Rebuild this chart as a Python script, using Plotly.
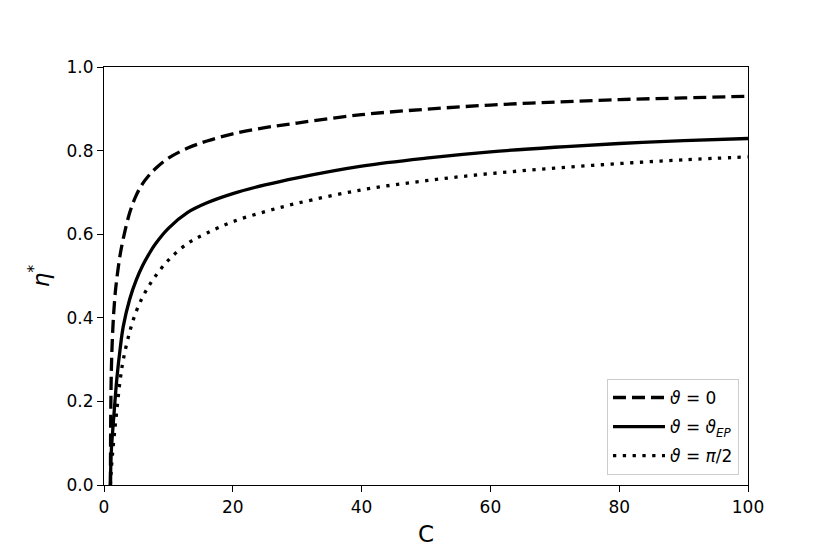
import plotly.graph_objects as go

# theta = 0 (dashed)
c_dash = [1, 1.05, 1.15, 1.3, 1.5, 1.75, 2, 2.5, 3, 4, 5, 6, 7, 8, 10, 13, 16, 20, 25, 30, 40, 50, 60, 70, 80, 90, 100]
eta_dash = [0, 0.17, 0.28, 0.35, 0.41, 0.46, 0.495, 0.55, 0.59, 0.652, 0.693, 0.721, 0.741, 0.757, 0.782, 0.806, 0.823, 0.840, 0.855, 0.866, 0.886, 0.899, 0.909, 0.916, 0.922, 0.926, 0.930]

# theta = theta_EP (solid)
c_solid = [1, 1.1, 1.3, 1.6, 2, 2.5, 3, 4, 5, 6, 7, 8, 10, 13, 16, 20, 25, 30, 40, 50, 60, 70, 80, 90, 100]
eta_solid = [0, 0.07, 0.12, 0.18, 0.255, 0.325, 0.38, 0.445, 0.49, 0.525, 0.553, 0.577, 0.614, 0.652, 0.675, 0.697, 0.718, 0.735, 0.763, 0.782, 0.797, 0.808, 0.817, 0.824, 0.829]

# theta = pi/2 (dotted)
c_dot = [1, 1.1, 1.3, 1.6, 2, 2.5, 3, 4, 5, 6, 7, 8, 10, 13, 16, 20, 25, 30, 40, 50, 60, 70, 80, 90, 100]
eta_dot = [0, 0.03, 0.07, 0.12, 0.18, 0.25, 0.30, 0.367, 0.415, 0.45, 0.477, 0.50, 0.538, 0.578, 0.603, 0.630, 0.654, 0.674, 0.706, 0.728, 0.745, 0.758, 0.769, 0.778, 0.785]

x_ticks = [0, 20, 40, 60, 80, 100]
y_ticks = [0.0, 0.2, 0.4, 0.6, 0.8, 1.0]

names = ["<i>ϑ</i> = 0", "<i>ϑ</i> = <i>ϑ</i><sub><i>EP</i></sub>", "<i>ϑ</i> = <i>π</i>/2"]

fig = go.Figure()
fig.add_trace(go.Scatter(x=c_dash, y=eta_dash, mode="lines", name=names[0], legendgroup="a",
                         line=dict(color="black", width=3.3, dash="13px,6px", shape="spline", smoothing=1)))
fig.add_trace(go.Scatter(x=c_solid, y=eta_solid, mode="lines", name=names[1], legendgroup="b",
                         line=dict(color="black", width=3.3, shape="spline", smoothing=1)))
fig.add_trace(go.Scatter(x=c_dot, y=eta_dot, mode="lines", name=names[2], legendgroup="c",
                         line=dict(color="black", width=3.3, dash="3.3px,6.5px", shape="spline", smoothing=1)))

axis_common = dict(showline=True, linecolor="black", linewidth=1.2, mirror=True,
                   ticks="outside", ticklen=6, tickwidth=1.2, tickcolor="black",
                   showgrid=False, zeroline=False,
                   tickfont=dict(family="DejaVu Sans", size=17, color="black"))

fig.update_layout(
    width=830, height=554,
    margin=dict(l=96, r=90, t=59, b=77),
    paper_bgcolor="white", plot_bgcolor="white",
    font=dict(family="DejaVu Sans", color="black"),
    xaxis=dict(range=[0, 100], tickvals=x_ticks, ticktext=[str(v) for v in x_ticks],
               title=dict(text="C", font=dict(size=23), standoff=10), **axis_common),
    yaxis=dict(range=[0, 1], tickvals=y_ticks, ticktext=[f"{v:.1f}" for v in y_ticks],
               title=dict(text="<i>η</i><sup>*</sup>", font=dict(size=23), standoff=10), **axis_common),
    legend=dict(x=0.986, y=0.024, xanchor="right", yanchor="bottom",
                bordercolor="#cccccc", borderwidth=1, bgcolor="rgba(255,255,255,0.8)",
                font=dict(family="DejaVu Sans", size=17), tracegroupgap=4, itemwidth=52),
    showlegend=True,
)

fig.write_html("out.html")
